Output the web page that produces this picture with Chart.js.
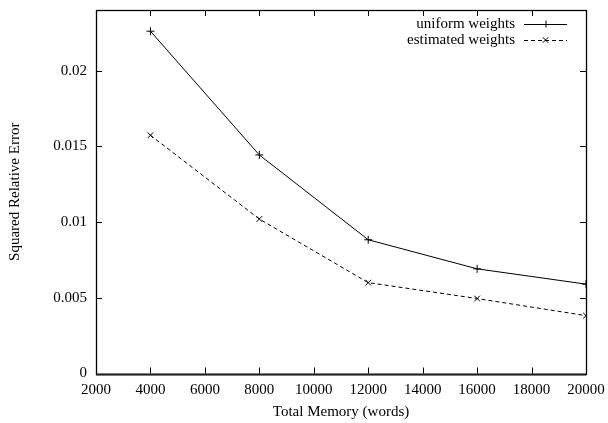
<!DOCTYPE html>
<html>
<head>
<meta charset="utf-8">
<script src="https://cdn.jsdelivr.net/npm/chart.js@4/dist/chart.umd.min.js"></script>
<style>
  html, body { margin: 0; padding: 0; background: #fff; }
  #wrap { width: 608px; height: 423px; }
</style>
</head>
<body>
<div id="wrap"><canvas id="c" width="608" height="423"></canvas></div>
<script>
const memory = [4000, 8000, 12000, 16000, 20000];
const uniformWeights = [0.0226, 0.01443, 0.00883, 0.00691, 0.0059];
const estimatedWeights = [0.01573, 0.0102, 0.0060, 0.00495, 0.00382];
const xTickValues = [2000, 4000, 6000, 8000, 10000, 12000, 14000, 16000, 18000, 20000];
const yTickValues = [0, 0.005, 0.01, 0.015, 0.02];
const seriesNames = ['uniform weights', 'estimated weights'];

const FONT = 'Liberation Serif';

const framePlugin = {
  id: 'frame',
  afterDatasetsDraw(chart) {
    const {ctx, chartArea: a, scales} = chart;
    ctx.save();
    ctx.strokeStyle = '#000';
    ctx.lineWidth = 1;
    // ticks on all four sides
    const tl = 6;
    ctx.beginPath();
    xTickValues.forEach(v => {
      const x = Math.round(scales.x.getPixelForValue(v)) + 0.5;
      ctx.moveTo(x, a.bottom); ctx.lineTo(x, a.bottom - tl);
      ctx.moveTo(x, a.top); ctx.lineTo(x, a.top + tl);
    });
    yTickValues.forEach(v => {
      const y = Math.round(scales.y.getPixelForValue(v)) + 0.5;
      ctx.moveTo(a.left, y); ctx.lineTo(a.left + tl, y);
      ctx.moveTo(a.right, y); ctx.lineTo(a.right - tl, y);
    });
    ctx.stroke();
    // frame
    ctx.lineWidth = 1.3;
    ctx.strokeRect(Math.round(a.left) + 0.5, Math.round(a.top) + 0.5, Math.round(a.right - a.left), Math.round(a.bottom - a.top));
    ctx.lineWidth = 2;
    ctx.strokeStyle = '#222';
    ctx.beginPath();
    ctx.moveTo(a.left, Math.round(a.bottom) + 0.5);
    ctx.lineTo(a.right, Math.round(a.bottom) + 0.5);
    ctx.stroke();

    // legend
    ctx.font = '15px "' + FONT + '"';
    ctx.fillStyle = '#000';
    ctx.textAlign = 'right';
    ctx.textBaseline = 'middle';
    const textRight = a.right - 71;
    const lx1 = a.right - 62, lx2 = a.right - 19;
    chart.data.datasets.forEach((ds, i) => {
      const y = a.top + 14 + i * 16;
      ctx.fillText(ds.label, textRight, y);
      ctx.beginPath();
      ctx.lineWidth = 1;
      ctx.strokeStyle = '#000';
      ctx.setLineDash(ds.borderDash || []);
      ctx.moveTo(lx1, y + 0.5); ctx.lineTo(lx2, y + 0.5);
      ctx.stroke();
      ctx.setLineDash([]);
      const mx = (lx1 + lx2) / 2, r = 3.5;
      ctx.beginPath();
      if (ds.pointStyle === 'cross') {
        ctx.moveTo(mx - r, y + 0.5); ctx.lineTo(mx + r, y + 0.5);
        ctx.moveTo(mx + 0.5, y - r); ctx.lineTo(mx + 0.5, y + r);
      } else {
        ctx.moveTo(mx - r * 0.8, y - r * 0.8); ctx.lineTo(mx + r * 0.8, y + r * 0.8);
        ctx.moveTo(mx - r * 0.8, y + r * 0.8); ctx.lineTo(mx + r * 0.8, y - r * 0.8);
      }
      ctx.stroke();
    });
    ctx.restore();
  }
};

function zeroPad(s) {
  s.paddingTop = 0; s.paddingBottom = 0; s.paddingLeft = 0; s.paddingRight = 0;
}

new Chart(document.getElementById('c'), {
  type: 'line',
  data: {
    datasets: [
      {
        label: seriesNames[0],
        data: memory.map((m, i) => ({x: m, y: uniformWeights[i]})),
        borderColor: '#000',
        borderWidth: 1,
        pointStyle: 'cross',
        pointRadius: 4,
        pointBorderColor: '#000',
        pointBorderWidth: 1,
        fill: false,
        tension: 0
      },
      {
        label: seriesNames[1],
        data: memory.map((m, i) => ({x: m, y: estimatedWeights[i]})),
        borderColor: '#000',
        borderWidth: 1,
        borderDash: [4, 3],
        pointStyle: 'crossRot',
        pointRadius: 4,
        pointBorderColor: '#000',
        pointBorderWidth: 1,
        fill: false,
        tension: 0
      }
    ]
  },
  options: {
    responsive: false,
    animation: false,
    devicePixelRatio: 1,
    layout: { padding: { top: 10, right: 22, left: 0, bottom: 0 } },
    plugins: { legend: { display: false }, tooltip: { enabled: false } },
    scales: {
      x: {
        type: 'linear',
        min: 2000,
        max: 20000,
        afterBuildTicks: s => { s.ticks = xTickValues.map(v => ({value: v})); },
        afterFit: s => { s.height = 49.5; zeroPad(s); },
        grid: { display: false, drawTicks: false },
        border: { display: false },
        ticks: {
          color: '#000',
          font: { family: FONT, size: 15 },
          padding: 8,
          maxRotation: 0,
          autoSkip: false,
          callback: v => String(v)
        },
        title: {
          display: true,
          text: 'Total Memory (words)',
          color: '#000',
          font: { family: FONT, size: 15 },
          padding: { top: 0, bottom: 2 }
        }
      },
      y: {
        type: 'linear',
        min: 0,
        max: 0.024,
        afterBuildTicks: s => { s.ticks = yTickValues.map(v => ({value: v})); },
        afterFit: s => { s.width = 96; zeroPad(s); },
        grid: { display: false, drawTicks: false },
        border: { display: false },
        ticks: {
          color: '#000',
          font: { family: FONT, size: 15 },
          padding: 9,
          autoSkip: false,
          callback: v => String(v)
        },
        title: {
          display: true,
          text: 'Squared Relative Error',
          color: '#000',
          font: { family: FONT, size: 15 },
          padding: { top: 6, bottom: 0 }
        }
      }
    }
  },
  plugins: [framePlugin]
});
</script>
</body>
</html>
